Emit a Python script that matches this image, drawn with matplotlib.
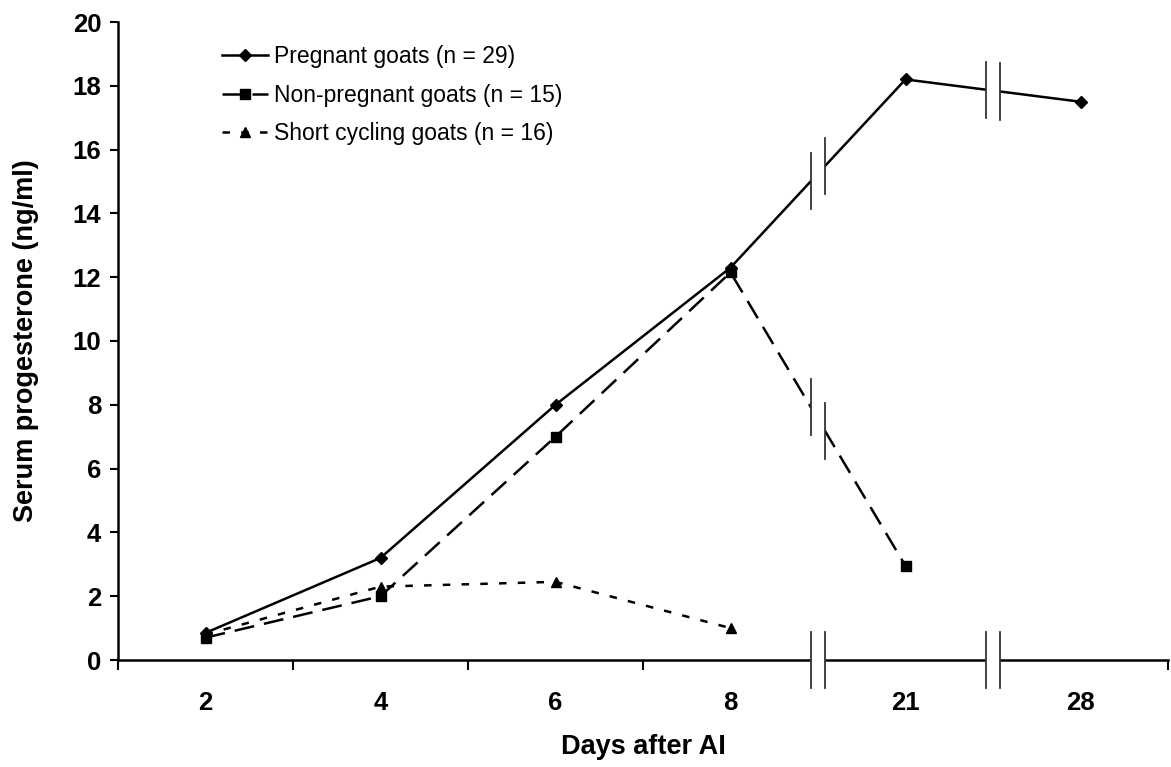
import numpy as np
import matplotlib
matplotlib.use('Agg')
import matplotlib.pyplot as plt
from matplotlib.patches import Polygon

plt.rcParams['font.family'] = ['Liberation Sans', 'DejaVu Sans']

# data
days = ['2', '4', '6', '8', '21', '28']
pregnant = [0.85, 3.2, 8.0, 12.3, 18.2, 17.5]
non_pregnant = [0.7, 2.0, 7.0, 12.15, 2.95]
short_cycling = [0.8, 2.3, 2.45, 1.0]
y_ticks = [0, 2, 4, 6, 8, 10, 12, 14, 16, 18, 20]

x = np.arange(len(days)) + 0.5

fig = plt.figure(figsize=(11.71, 7.67), dpi=100)
ax = fig.add_axes([118 / 1171, 1 - 660 / 767, 1050 / 1171, 638 / 767])

lw = 1.8
ax.plot(x, pregnant, color='black', lw=lw, marker='D', ms=6,
        label='Pregnant goats (n = 29)', zorder=3)
ax.plot(x[:len(non_pregnant)], non_pregnant, color='black', lw=lw,
        ls=(0, (8, 4)), marker='s', ms=7,
        label='Non-pregnant goats (n = 15)', zorder=3)
ax.plot(x[:len(short_cycling)], short_cycling, color='black', lw=lw,
        ls=(0, (3, 4.5)), marker='^', ms=7,
        label='Short cycling goats (n = 16)', zorder=3)

ax.set_xlim(0, 6)
ax.set_ylim(0, 20)

for s in ['top', 'right']:
    ax.spines[s].set_visible(False)
for s in ['left', 'bottom']:
    ax.spines[s].set_linewidth(1.8)

ax.set_yticks(y_ticks)
ax.set_yticklabels([str(v) for v in y_ticks], fontsize=18.5, fontweight='bold')
ax.tick_params(axis='y', direction='out', length=6, width=1.5, pad=6)

ax.set_xticks([0, 1, 2, 3, 6])
ax.set_xticklabels([])
ax.set_xticks(x, minor=True)
ax.set_xticklabels(days, minor=True, fontsize=18.5, fontweight='bold')
ax.tick_params(axis='x', which='major', direction='out', length=7, width=1.5)
ax.tick_params(axis='x', which='minor', length=0, pad=22)

ax.set_xlabel('Days after AI', fontsize=19.5, fontweight='bold', labelpad=14)
ax.set_ylabel('Serum progesterone (ng/ml)', fontsize=19.5, fontweight='bold',
              labelpad=24)


def draw_break(xb, ya, yb, clip=True):
    # two small vertical strokes with a white gap between them
    g = 0.04
    h = 0.88
    x1, x2 = xb - g, xb + g
    poly = Polygon([(x1, ya - h), (x2, yb - h), (x2, yb + h), (x1, ya + h)],
                   closed=True, facecolor='white', edgecolor='none',
                   zorder=5, clip_on=clip)
    ax.add_patch(poly)
    ax.plot([x1, x1], [ya - h, ya + h], color='#333333', lw=1.3,
            zorder=6, clip_on=clip)
    ax.plot([x2, x2], [yb - h, yb + h], color='#333333', lw=1.3,
            zorder=6, clip_on=clip)


def interp(series, xb):
    xs = x[:len(series)]
    return np.interp(xb, xs, series)


g = 0.04
for xb in [4.0, 5.0]:
    draw_break(xb, 0, 0, clip=False)
for series, breaks in [(pregnant, [4.0, 5.0]), (non_pregnant, [4.0])]:
    for xb in breaks:
        draw_break(xb, interp(series, xb - g), interp(series, xb + g))

leg = ax.legend(loc='upper left', bbox_to_anchor=(0.099, 0.964), frameon=False,
                fontsize=16.5, handlelength=2.0, handletextpad=0.25,
                labelspacing=0.68, borderpad=0, borderaxespad=0)

plt.savefig('out.png', dpi=100)
